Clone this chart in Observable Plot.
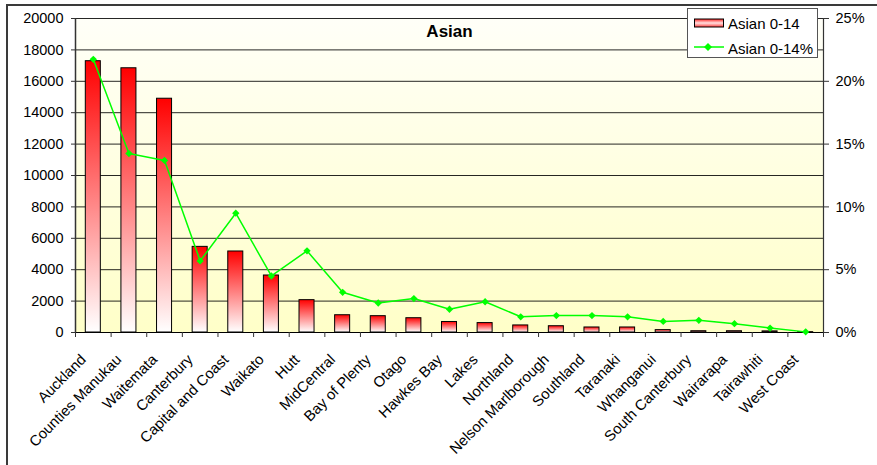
<!DOCTYPE html>
<html>
<head>
<meta charset="utf-8">
<script src="https://cdn.jsdelivr.net/npm/d3@7"></script>
<script src="https://cdn.jsdelivr.net/npm/@observablehq/plot@0.6"></script>
<style>
  body { margin: 0; background: #fff; }
  #wrap { position: relative; width: 877px; height: 465px; overflow: hidden; font-family: 'Liberation Sans', Arial, sans-serif; }
  #border { position: absolute; left: 6px; top: 4px; width: 2000px; height: 2000px; border-left: 2px solid #3a3a3a; border-top: 2px solid #3a3a3a; }
  #chart { position: absolute; left: 0; top: 0; }
  #legend { position: absolute; left: 687px; top: 8px; width: 129px; height: 48px; background: #fff; border: 1px solid #555; box-sizing: content-box; font-size: 15px; color: #000; }
  #legend .item { position: absolute; left: 0; height: 20px; display: flex; align-items: center; }
  #legend svg { display: block; }
</style>
</head>
<body>
<div id="wrap">
  <div id="border"></div>
  <div id="chart"></div>
  <div id="legend">
    <div class="item" style="top:7px">
      <svg width="40" height="20" style="margin-left:5px"><defs><linearGradient id="lgBar" x1="0" y1="0" x2="0" y2="1"><stop offset="0" stop-color="#ff2020"/><stop offset="0.5" stop-color="#ffe0e0"/><stop offset="1" stop-color="#ff4040"/></linearGradient></defs><rect x="1.5" y="3" width="29" height="8" fill="url(#lgBar)" stroke="#000" stroke-width="1"/></svg>
      <span style="margin-left:-5px;position:relative;top:-3px">Asian 0-14</span>
    </div>
    <div class="item" style="top:28px">
      <svg width="40" height="20" style="margin-left:5px"><line x1="1" y1="10" x2="31" y2="10" stroke="#00ff00" stroke-width="1.5"/><path d="M15,6 L19,10 L15,14 L11,10 Z" fill="#00ff00"/></svg>
      <span style="margin-left:-5px;position:relative;top:1px">Asian 0-14%</span>
    </div>
  </div>
</div>
<script>
const names = ["Auckland","Counties Manukau","Waitemata","Canterbury","Capital and Coast","Waikato","Hutt","MidCentral","Bay of Plenty","Otago","Hawkes Bay","Lakes","Northland","Nelson Marlborough","Southland","Taranaki","Whanganui","South Canterbury","Wairarapa","Tairawhiti","West Coast"];
const counts = [17280, 16830, 14890, 5455, 5160, 3630, 2060, 1100, 1040, 910, 670, 600, 450, 400, 320, 320, 150, 80, 80, 70, 20];
const pcts = [21.75, 14.25, 13.7, 5.7, 9.5, 4.5, 6.5, 3.2, 2.35, 2.7, 1.85, 2.45, 1.25, 1.35, 1.35, 1.25, 0.88, 0.97, 0.7, 0.35, 0.05];
const countTicks = [0, 2000, 4000, 6000, 8000, 10000, 12000, 14000, 16000, 18000, 20000];
const pctTicks = [0, 5, 10, 15, 20, 25];
const title = "Asian";

const countMax = 20000, pctMax = 25;
const toY = p => p * countMax / pctMax;
const data = names.map((name, i) => ({i, name, count: counts[i], pct: pcts[i]}));

const chart = Plot.plot({
  width: 877,
  height: 465,
  marginLeft: 75,
  marginRight: 54,
  marginTop: 18,
  marginBottom: 133,
  style: {fontFamily: "'Liberation Sans', Arial, sans-serif", fontSize: "14.5px", background: "transparent", color: "#000"},
  x: {domain: [0, names.length], label: null},
  y: {domain: [0, countMax], label: null},
  marks: [
    Plot.frame({fill: "url(#bgGrad)", stroke: null}),
    Plot.gridY(countTicks, {stroke: "#000", strokeOpacity: 0.85, strokeWidth: 1}),
    Plot.rectY(data, {x1: "i", x2: d => d.i + 1, y: "count", insetLeft: 10.3, insetRight: 10.3, fill: "url(#barGrad)", stroke: "#000", strokeWidth: 1}),
    Plot.ruleX([0], {stroke: "#333", strokeWidth: 1.5}),
    Plot.ruleX([names.length], {stroke: "#333", strokeWidth: 1.2}),
    Plot.ruleY([0], {stroke: "#000", strokeWidth: 1.2}),
    Plot.line(data, {x: d => d.i + 0.5, y: d => toY(d.pct), stroke: "#00ff00", strokeWidth: 1.5}),
    Plot.dot(data, {x: d => d.i + 0.5, y: d => toY(d.pct), symbol: "diamond2", r: 3.3, fill: "#00ff00", stroke: "none"}),
    Plot.axisY(countTicks, {anchor: "left", label: null, tickSize: 4, tickPadding: 8, tickFormat: d3.format("d"), stroke: "#333"}),
    Plot.axisY(pctTicks.map(toY), {anchor: "right", label: null, tickSize: 5, tickPadding: 7, tickFormat: d => Math.round(d * pctMax / countMax) + "%", stroke: "#333"}),
    Plot.axisX(d3.range(names.length + 1), {anchor: "bottom", label: null, tickSize: 5, tickFormat: () => "", stroke: "#333"}),
    Plot.text(data, {x: d => d.i + 0.5, text: "name", frameAnchor: "bottom", rotate: -45, textAnchor: "end", lineAnchor: "bottom", dx: -6.5, dy: 28, fontSize: 14.8, fill: "#000"}),
    Plot.text([title], {frameAnchor: "top", lineAnchor: "bottom", dy: 18.5, fontWeight: "bold", fontSize: 17, fill: "#000"})
  ]
});

const defs = d3.select(chart).insert("defs", ":first-child");
const bg = defs.append("linearGradient").attr("id", "bgGrad").attr("x1", 0).attr("y1", 0).attr("x2", 0).attr("y2", 1);
bg.append("stop").attr("offset", 0).attr("stop-color", "#fffff8");
bg.append("stop").attr("offset", 1).attr("stop-color", "#ffffc8");
const bar = defs.append("linearGradient").attr("id", "barGrad").attr("x1", 0).attr("y1", 0).attr("x2", 0).attr("y2", 1);
bar.append("stop").attr("offset", 0).attr("stop-color", "#ff0000");
bar.append("stop").attr("offset", 1).attr("stop-color", "#ffffff");

document.getElementById("chart").appendChild(chart);
</script>
</body>
</html>
